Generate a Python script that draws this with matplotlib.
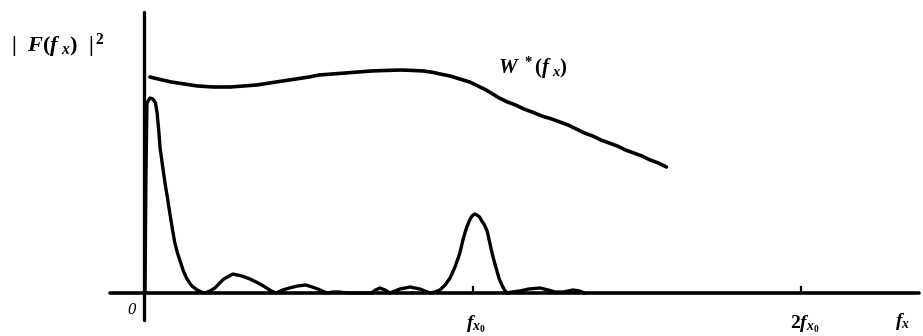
import matplotlib
matplotlib.use("Agg")
from matplotlib import pyplot

# frequency in units of f_x0, heights in arbitrary units above the f axis
spectrum_f = [0.0, 0.003, 0.006, 0.015, 0.024, 0.032, 0.037, 0.042, 0.046, 0.054, 0.061,
              0.069, 0.076, 0.084, 0.091, 0.099, 0.107, 0.117, 0.128, 0.143, 0.159, 0.172,
              0.183, 0.198, 0.213, 0.240, 0.268, 0.295, 0.320, 0.345, 0.366, 0.385, 0.400,
              0.420, 0.440, 0.465, 0.490, 0.510, 0.527, 0.540, 0.555, 0.575, 0.590, 0.620,
              0.655, 0.690, 0.703, 0.716, 0.732, 0.747, 0.762, 0.777, 0.793, 0.808, 0.823,
              0.838, 0.853, 0.869, 0.884, 0.899, 0.915, 0.930, 0.945, 0.960, 0.970, 0.980,
              0.990, 0.997, 1.005, 1.012, 1.020, 1.027, 1.035, 1.043, 1.050, 1.058, 1.066,
              1.073, 1.080, 1.088, 1.096, 1.104, 1.120, 1.143, 1.170, 1.204, 1.230, 1.250,
              1.275, 1.305, 1.325, 1.340]
spectrum_h = [0, 120, 190, 195, 194, 190, 180, 162, 145, 126, 110,
              94, 79, 63, 50, 40, 32, 22, 14, 7, 3, 1,
              0, 2, 5, 14, 19, 17, 14, 10, 6, 2, 0,
              3, 5, 7, 8, 6, 4, 2, 0, 1, 1, 0,
              0, 0, 3, 5, 3, 0, 2, 4, 5, 6, 5,
              4, 2, 0, 1, 3, 8, 15, 26, 40, 54, 65,
              73, 77, 79, 78, 76, 72, 68, 62, 52, 40, 30,
              22, 14, 8, 3, 0, 1, 2, 4, 5, 3, 1,
              1, 3, 2, 0]

window_f = [0.015, 0.04, 0.08, 0.12, 0.16, 0.21, 0.26, 0.30, 0.34, 0.38, 0.42, 0.46,
            0.50, 0.53, 0.57, 0.61, 0.65, 0.69, 0.73, 0.78, 0.82, 0.85, 0.88,
            0.90, 0.93, 0.95, 0.97, 0.99, 1.015, 1.04, 1.06, 1.08, 1.105, 1.13, 1.155,
            1.18, 1.21, 1.24, 1.265, 1.29, 1.315, 1.34, 1.365, 1.39, 1.415, 1.44,
            1.465, 1.49, 1.515, 1.54, 1.565, 1.59]
window_h = [216, 214, 211, 209, 207, 206, 206, 207, 208, 210, 212, 214,
            216, 218, 219, 220, 221, 222, 222.5, 223, 222.5, 222, 220.5,
            219, 217, 215, 213, 211, 207, 203, 199, 195, 191, 188, 184,
            181, 177, 174, 171, 168, 164, 160, 157, 153, 150, 147,
            143, 140, 137, 133, 130, 126]

ticks_f = [1.0, 2.0]
tick_labels = [r"$f_{x_0}$", r"$2f_{x_0}$"]

pyplot.rcParams["mathtext.fontset"] = "custom"
pyplot.rcParams["mathtext.it"] = "Liberation Serif:italic:bold"
pyplot.rcParams["mathtext.rm"] = "Liberation Serif:bold"
pyplot.rcParams["mathtext.bf"] = "Liberation Serif:bold"

fig = pyplot.figure(figsize=(9.23, 3.36), dpi=100)
ax = fig.add_axes([0, 0, 1, 1])
ax.set_xlim(-145 / 328, 778 / 328)
ax.set_ylim(-43, 293)
ax.axis("off")

# axes drawn by hand, like the printed figure
ax.plot([-0.107, 2.36], [0, 0], color="black", lw=2.6, solid_capstyle="round")
ax.plot([-0.004, -0.004], [-27, 281], color="black", lw=2.4, solid_capstyle="round")
for t in ticks_f:
    ax.plot([t, t], [0, 6], color="black", lw=1.6)

ax.plot(spectrum_f, spectrum_h, color="black", lw=2.4, solid_joinstyle="round")
ax.plot(window_f, window_h, color="black", lw=2.6, solid_capstyle="round",
        solid_joinstyle="round")

ax.text(-0.41, 247, r"$|\ \ F(f_{\ x})\ \ |^{\,2}$", fontsize=16, va="center", ha="left")
ax.text(1.075, 225, r"$W\ ^*(f_{\ x})$", fontsize=15, va="center", ha="left")
ax.text(-0.04, -17, "0", fontsize=12, ha="center", va="center",
        family="Liberation Serif", style="italic")
for t, lab in zip(ticks_f, tick_labels):
    ax.text(t + 0.01, -31, lab, fontsize=14, ha="center", va="center")
ax.text(2.31, -28, r"$f_x$", fontsize=14, ha="center", va="center")

fig.savefig("out.png", dpi=100)
